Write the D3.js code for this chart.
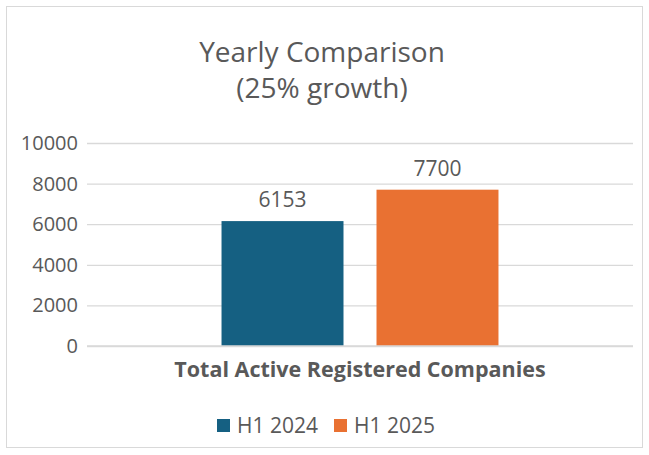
<!DOCTYPE html>
<html>
<head>
<meta charset="utf-8">
<script src="https://cdn.jsdelivr.net/npm/d3@7"></script>
<style>
  body { margin: 0; background: #fff; }
  text { font-family: "Open Sans", "Noto Sans", sans-serif; fill: #595959; }
</style>
</head>
<body>
<div id="chart"></div>
<script>
var categories = ["Total Active Registered Companies"];
var seriesNames = ["H1 2024", "H1 2025"];
var seriesValues = [[6153], [7700]];
var seriesColors = ["#156082", "#E97132"];
var yTicks = [0, 2000, 4000, 6000, 8000, 10000];

var width = 649, height = 455;
var margin = {left: 87, right: 16, top: 143, bottom: 109};

var svg = d3.select("#chart").append("svg")
  .attr("width", width)
  .attr("height", height);

// outer frame
svg.append("rect")
  .attr("x", 6.5).attr("y", 6.5)
  .attr("width", 636).attr("height", 441)
  .attr("fill", "#fff")
  .attr("stroke", "#d9d9d9")
  .attr("stroke-width", 1);

// title
svg.append("text")
  .attr("x", 322).attr("y", 62)
  .attr("text-anchor", "middle")
  .attr("font-size", 28)
  .text("Yearly Comparison");
svg.append("text")
  .attr("x", 322).attr("y", 98)
  .attr("text-anchor", "middle")
  .attr("font-size", 28)
  .text("(25% growth)");

var y = d3.scaleLinear()
  .domain([0, 10000])
  .range([height - margin.bottom, margin.top]);

var x0 = d3.scaleBand()
  .domain(categories)
  .range([margin.left, width - margin.right]);

var x1 = d3.scaleBand()
  .domain(seriesNames)
  .range([0, x0.bandwidth()])
  .paddingInner(0.213)
  .paddingOuter(0.868);

// gridlines
var yAxis = d3.axisLeft(y)
  .tickValues(yTicks)
  .tickSize(-(width - margin.left - margin.right))
  .tickPadding(9)
  .tickFormat(d3.format("d"));

var gy = svg.append("g")
  .attr("transform", "translate(" + margin.left + ",0)")
  .call(yAxis);
gy.select(".domain").remove();
gy.selectAll(".tick line").attr("stroke", "#d9d9d9").attr("stroke-width", 1.3);
gy.selectAll(".tick text").attr("font-size", 20).attr("fill", "#595959");

// bars
var groups = svg.selectAll("g.cat")
  .data(categories)
  .enter().append("g")
  .attr("class", "cat")
  .attr("transform", function(d) { return "translate(" + x0(d) + ",0)"; });

seriesNames.forEach(function(s, si) {
  groups.append("rect")
    .attr("x", x1(s))
    .attr("width", x1.bandwidth())
    .attr("y", function(d, ci) { return y(seriesValues[si][ci]); })
    .attr("height", function(d, ci) { return y(0) - y(seriesValues[si][ci]); })
    .attr("fill", seriesColors[si]);

  groups.append("text")
    .attr("x", x1(s) + x1.bandwidth() / 2)
    .attr("y", function(d, ci) { return y(seriesValues[si][ci]) - 14; })
    .attr("text-anchor", "middle")
    .attr("font-size", 21)
    .text(function(d, ci) { return seriesValues[si][ci]; });
});

// redraw baseline over bars
svg.append("line")
  .attr("x1", margin.left).attr("x2", width - margin.right)
  .attr("y1", y(0)).attr("y2", y(0))
  .attr("stroke", "#d9d9d9").attr("stroke-width", 1.3);

// category label
groups.append("text")
  .attr("x", x0.bandwidth() / 2)
  .attr("y", 377)
  .attr("text-anchor", "middle")
  .attr("font-size", 21.5)
  .attr("font-weight", "bold")
  .text(function(d) { return d; });

// legend
var legendX = [217, 334];
var legend = svg.selectAll("g.legend")
  .data(seriesNames)
  .enter().append("g")
  .attr("class", "legend")
  .attr("transform", function(d, i) { return "translate(" + legendX[i] + ",418)"; });
legend.append("rect")
  .attr("width", 13).attr("height", 13).attr("y", 1)
  .attr("fill", function(d, i) { return seriesColors[i]; });
legend.append("text")
  .attr("x", 20).attr("y", 15)
  .attr("font-size", 21)
  .text(function(d) { return d; });
</script>
</body>
</html>
